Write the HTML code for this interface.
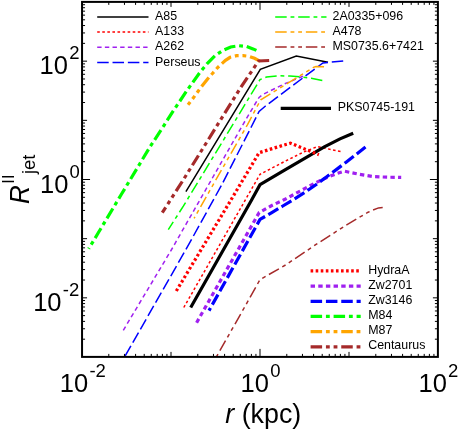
<!DOCTYPE html>
<html><head><meta charset="utf-8"><title>plot</title>
<style>
html,body{margin:0;padding:0;background:#fff;}
svg{display:block;will-change:transform}
text{font-family:"Liberation Sans",sans-serif;fill:#000}
</style></head><body>
<svg width="458" height="430" viewBox="0 0 458 430">
<rect x="0" y="0" width="458" height="430" fill="#fff"/>
<defs><clipPath id="cp"><rect x="82.05" y="1.9" width="355.84999999999997" height="355.0"/></clipPath></defs>

<g clip-path="url(#cp)" fill="none" stroke-linejoin="miter" stroke-linecap="butt">
<path d="M185.9,191.7 L260.3,69.4 L296.3,56.0 L328.0,62.2" stroke="#000000" stroke-width="1.5"/>
<path d="M183.8,307.5 L260.0,174.3 L285.0,161.3 L304.7,151.6 L317.4,146.6 L341.0,151.6" stroke="#ff0000" stroke-width="1.5" stroke-dasharray="2.6,2.47"/>
<path d="M123.3,330.3 L171.3,250.0 L208.7,184.5 L242.2,125.9 L250.3,112.0 L259.1,97.4 L262.6,94.6 L270.1,90.9 L277.1,87.4 L284.7,83.8 L298.6,78.0 L303.0,76.2" stroke="#a020f0" stroke-width="1.5" stroke-dasharray="4.4,3.26"/>
<path d="M124.0,358.0 L187.5,246.7 L221.7,184.9 L251.5,126.5 L259.1,111.4 L264.9,106.5 L322.9,62.9 L343.2,61.0" stroke="#0000ff" stroke-width="1.5" stroke-dasharray="11.5,3.83" stroke-dashoffset="-2.4"/>
<path d="M168.3,229.7 L183.5,205.9 L241.6,110.1 L260.0,79.6 L266.6,77.0 L278.3,75.8 L289.9,76.1 L301.5,77.0 L311.2,78.3 L323.4,80.7" stroke="#00ff00" stroke-width="1.5" stroke-dasharray="11.5,3.83,3.83,3.83" stroke-dashoffset="2.3"/>
<path d="M194.1,218.3 L214.4,182.4 L247.4,124.8 L257.9,105.0 L260.8,99.8 L289.9,81.8 L313.4,67.4 L316.0,66.6 L324.8,66.8" stroke="#ffa500" stroke-width="1.5" stroke-dasharray="11.5,3.83,3.83,3.83,3.83,3.83" stroke-dashoffset="17.5"/>
<path d="M215.4,358.6 L244.1,308.0 L260.0,279.6 L285.6,265.0 L316.1,244.4 L346.7,224.8 L368.1,212.2 L373.0,210.1 L378.5,207.9 L382.7,207.5" stroke="#a52a2a" stroke-width="1.5" stroke-dasharray="11.5,3.83,3.83,3.83,3.83,3.83" stroke-dashoffset="21.6"/>
<path d="M190.7,307.5 L251.6,200.0 L260.0,184.7 L285.0,169.8 L304.7,158.3 L324.3,146.8 L340.0,138.9 L353.2,133.2" stroke="#000000" stroke-width="3.2"/>
<path d="M176.3,291.0 L227.7,205.4 L259.1,152.7 L285.0,144.7 L290.5,143.2 L318.9,154.7" stroke="#ff0000" stroke-width="3.2" stroke-dasharray="2.6,2.47"/>
<path d="M196.6,322.7 L259.1,212.6 L271.8,205.5 L285.0,199.3 L304.6,188.6 L315.5,182.8 L326.4,177.7 L337.3,173.4 L344.5,171.2 L359.3,174.3 L373.1,176.6 L388.0,177.2 L401.2,177.4" stroke="#a020f0" stroke-width="3.2" stroke-dasharray="4.4,3.26"/>
<path d="M209.0,310.6 L260.0,219.4 L271.8,212.6 L282.8,206.0 L293.7,199.4 L304.6,192.5 L315.5,185.0 L326.4,177.0 L337.3,168.9 L346.1,162.2 L365.5,147.1" stroke="#0000ff" stroke-width="3.2" stroke-dasharray="11.5,3.83" stroke-dashoffset="8.5"/>
<path d="M88.7,248.8 L98.3,232.8 L121.7,193.8 L150.0,146.9 L163.9,125.6 L173.1,111.2 L186.2,91.6 L199.3,73.2 L207.2,63.5 L215.0,55.7 L222.9,50.4 L230.7,47.0 L238.6,45.7 L246.5,46.5 L253.0,48.9 L256.4,50.4" stroke="#00ff00" stroke-width="3.2" stroke-dasharray="11.5,3.83,3.83,3.83" stroke-dashoffset="10.5"/>
<path d="M188.0,104.8 L193.4,97.8 L198.3,91.0 L202.0,86.0 L209.0,77.3 L212.7,73.2 L217.6,67.6 L221.2,64.3 L225.5,60.3 L230.1,57.3 L236.6,55.7 L243.1,55.6 L248.8,56.3 L254.5,58.3 L259.8,61.2" stroke="#ffa500" stroke-width="3.2" stroke-dasharray="11.5,3.83,3.83,3.83,3.83,3.83" stroke-dashoffset="7.9"/>
<path d="M162.3,212.6 L182.7,180.8 L241.5,86.3 L258.6,61.0 L271.0,60.4" stroke="#a52a2a" stroke-width="3.2" stroke-dasharray="11.5,3.83,3.83,3.83,3.83,3.83" stroke-dashoffset="5.2"/>
</g>
<path d="M108.79,356.9v-3.0M108.79,1.9v3.0M124.46,356.9v-3.0M124.46,1.9v3.0M135.58,356.9v-3.0M135.58,1.9v3.0M144.21,356.9v-3.0M144.21,1.9v3.0M151.26,356.9v-3.0M151.26,1.9v3.0M157.21,356.9v-3.0M157.21,1.9v3.0M162.38,356.9v-3.0M162.38,1.9v3.0M166.93,356.9v-3.0M166.93,1.9v3.0M171.00,356.9v-5.0M171.00,1.9v5.0M197.79,356.9v-3.0M197.79,1.9v3.0M213.46,356.9v-3.0M213.46,1.9v3.0M224.58,356.9v-3.0M224.58,1.9v3.0M233.21,356.9v-3.0M233.21,1.9v3.0M240.26,356.9v-3.0M240.26,1.9v3.0M246.21,356.9v-3.0M246.21,1.9v3.0M251.38,356.9v-3.0M251.38,1.9v3.0M255.93,356.9v-3.0M255.93,1.9v3.0M260.00,356.9v-8.0M260.00,1.9v8.0M286.79,356.9v-3.0M286.79,1.9v3.0M302.46,356.9v-3.0M302.46,1.9v3.0M313.58,356.9v-3.0M313.58,1.9v3.0M322.21,356.9v-3.0M322.21,1.9v3.0M329.26,356.9v-3.0M329.26,1.9v3.0M335.21,356.9v-3.0M335.21,1.9v3.0M340.38,356.9v-3.0M340.38,1.9v3.0M344.93,356.9v-3.0M344.93,1.9v3.0M349.00,356.9v-5.0M349.00,1.9v5.0M375.79,356.9v-3.0M375.79,1.9v3.0M391.46,356.9v-3.0M391.46,1.9v3.0M402.58,356.9v-3.0M402.58,1.9v3.0M411.21,356.9v-3.0M411.21,1.9v3.0M418.26,356.9v-3.0M418.26,1.9v3.0M424.21,356.9v-3.0M424.21,1.9v3.0M429.38,356.9v-3.0M429.38,1.9v3.0M433.93,356.9v-3.0M433.93,1.9v3.0M82.05,339.19h3.0M437.9,339.19h-3.0M82.05,328.77h3.0M437.9,328.77h-3.0M82.05,321.38h3.0M437.9,321.38h-3.0M82.05,315.64h3.0M437.9,315.64h-3.0M82.05,310.96h3.0M437.9,310.96h-3.0M82.05,307.00h3.0M437.9,307.00h-3.0M82.05,303.57h3.0M437.9,303.57h-3.0M82.05,300.54h3.0M437.9,300.54h-3.0M82.05,297.83h5.0M437.9,297.83h-5.0M82.05,280.02h3.0M437.9,280.02h-3.0M82.05,269.60h3.0M437.9,269.60h-3.0M82.05,262.21h3.0M437.9,262.21h-3.0M82.05,256.48h3.0M437.9,256.48h-3.0M82.05,251.79h3.0M437.9,251.79h-3.0M82.05,247.83h3.0M437.9,247.83h-3.0M82.05,244.40h3.0M437.9,244.40h-3.0M82.05,241.37h3.0M437.9,241.37h-3.0M82.05,238.67h5.0M437.9,238.67h-5.0M82.05,220.86h3.0M437.9,220.86h-3.0M82.05,210.44h3.0M437.9,210.44h-3.0M82.05,203.04h3.0M437.9,203.04h-3.0M82.05,197.31h3.0M437.9,197.31h-3.0M82.05,192.63h3.0M437.9,192.63h-3.0M82.05,188.67h3.0M437.9,188.67h-3.0M82.05,185.23h3.0M437.9,185.23h-3.0M82.05,182.21h3.0M437.9,182.21h-3.0M82.05,179.50h8.0M437.9,179.50h-8.0M82.05,161.69h3.0M437.9,161.69h-3.0M82.05,151.27h3.0M437.9,151.27h-3.0M82.05,143.88h3.0M437.9,143.88h-3.0M82.05,138.14h3.0M437.9,138.14h-3.0M82.05,133.46h3.0M437.9,133.46h-3.0M82.05,129.50h3.0M437.9,129.50h-3.0M82.05,126.07h3.0M437.9,126.07h-3.0M82.05,123.04h3.0M437.9,123.04h-3.0M82.05,120.33h5.0M437.9,120.33h-5.0M82.05,102.52h3.0M437.9,102.52h-3.0M82.05,92.10h3.0M437.9,92.10h-3.0M82.05,84.71h3.0M437.9,84.71h-3.0M82.05,78.98h3.0M437.9,78.98h-3.0M82.05,74.29h3.0M437.9,74.29h-3.0M82.05,70.33h3.0M437.9,70.33h-3.0M82.05,66.90h3.0M437.9,66.90h-3.0M82.05,63.87h3.0M437.9,63.87h-3.0M82.05,61.17h5.0M437.9,61.17h-5.0M82.05,43.36h3.0M437.9,43.36h-3.0M82.05,32.94h3.0M437.9,32.94h-3.0M82.05,25.54h3.0M437.9,25.54h-3.0M82.05,19.81h3.0M437.9,19.81h-3.0M82.05,15.13h3.0M437.9,15.13h-3.0M82.05,11.17h3.0M437.9,11.17h-3.0M82.05,7.73h3.0M437.9,7.73h-3.0M82.05,4.71h3.0M437.9,4.71h-3.0" stroke="#000" stroke-width="1" fill="none"/>
<rect x="82.05" y="1.9" width="355.84999999999997" height="355.0" fill="none" stroke="#000" stroke-width="2"/>
<path d="M97.2,17.0H148.5" stroke="#000000" stroke-width="1.5" fill="none"/>
<text x="155.1" y="20.0" font-size="12.4" text-anchor="start" >A85</text>
<path d="M97.2,32.0H148.5" stroke="#ff0000" stroke-width="1.5" fill="none" stroke-dasharray="2.6,2.47"/>
<text x="155.1" y="35.0" font-size="12.4" text-anchor="start" >A133</text>
<path d="M97.2,47.3H148.5" stroke="#a020f0" stroke-width="1.5" fill="none" stroke-dasharray="4.4,3.26"/>
<text x="155.1" y="50.3" font-size="12.4" text-anchor="start" >A262</text>
<path d="M97.2,62.6H148.5" stroke="#0000ff" stroke-width="1.5" fill="none" stroke-dasharray="11.5,3.83"/>
<text x="155.1" y="65.6" font-size="12.4" text-anchor="start" >Perseus</text>
<path d="M275.2,17.0H326.5" stroke="#00ff00" stroke-width="1.5" fill="none" stroke-dasharray="11.5,3.83,3.83,3.83"/>
<text x="332.5" y="20.0" font-size="12.4" text-anchor="start" >2A0335+096</text>
<path d="M275.2,32.0H326.5" stroke="#ffa500" stroke-width="1.5" fill="none" stroke-dasharray="11.5,3.83,3.83,3.83,3.83,3.83"/>
<text x="332.5" y="35.0" font-size="12.4" text-anchor="start" >A478</text>
<path d="M275.2,47.1H326.5" stroke="#a52a2a" stroke-width="1.5" fill="none" stroke-dasharray="11.5,3.83,3.83,3.83,3.83,3.83"/>
<text x="332.5" y="50.1" font-size="12.4" text-anchor="start" >MS0735.6+7421</text>
<path d="M280.7,108.3H331" stroke="#000000" stroke-width="3.2" fill="none"/>
<text x="337.8" y="111.3" font-size="12.4" text-anchor="start" >PKS0745-191</text>
<path d="M310.6,270.9H360.7" stroke="#ff0000" stroke-width="3.2" fill="none" stroke-dasharray="2.6,2.47"/>
<text x="368.2" y="273.7" font-size="12.4" text-anchor="start" >HydraA</text>
<path d="M310.6,286.2H360.7" stroke="#a020f0" stroke-width="3.2" fill="none" stroke-dasharray="4.4,3.26"/>
<text x="368.2" y="288.83" font-size="12.4" text-anchor="start" >Zw2701</text>
<path d="M310.6,301.3H360.7" stroke="#0000ff" stroke-width="3.2" fill="none" stroke-dasharray="11.5,3.83"/>
<text x="368.2" y="303.96" font-size="12.4" text-anchor="start" >Zw3146</text>
<path d="M310.6,316.3H360.7" stroke="#00ff00" stroke-width="3.2" fill="none" stroke-dasharray="11.5,3.83,3.83,3.83"/>
<text x="368.2" y="319.09" font-size="12.4" text-anchor="start" >M84</text>
<path d="M310.6,331.7H360.7" stroke="#ffa500" stroke-width="3.2" fill="none" stroke-dasharray="11.5,3.83,3.83,3.83,3.83,3.83"/>
<text x="368.2" y="334.22" font-size="12.4" text-anchor="start" >M87</text>
<path d="M310.6,346.9H360.7" stroke="#a52a2a" stroke-width="3.2" fill="none" stroke-dasharray="11.5,3.83,3.83,3.83,3.83,3.83"/>
<text x="368.2" y="349.35" font-size="12.4" text-anchor="start" >Centaurus</text>
<text x="59.8" y="391.8" font-size="25.5">10<tspan font-size="18.5" dy="-14.7" dx="1.2">-2</tspan></text>
<text x="240.6" y="391.8" font-size="25.5">10<tspan font-size="18.5" dy="-14.7" dx="1.2">0</tspan></text>
<text x="418.5" y="391.8" font-size="25.5">10<tspan font-size="18.5" dy="-14.7" dx="1.2">2</tspan></text>
<text x="39.6" y="73.8" font-size="25.5">10<tspan font-size="18.5" dy="-14.7" dx="1.2">2</tspan></text>
<text x="40.0" y="192.6" font-size="25.5">10<tspan font-size="18.5" dy="-14.7" dx="1.2">0</tspan></text>
<text x="33.2" y="310.9" font-size="25.5">10<tspan font-size="18.5" dy="-14.7" dx="1.2">-2</tspan></text>
<text x="225.3" y="423.0" font-size="26.8"><tspan font-style="italic">r</tspan> (kpc)</text>
<g transform="translate(28.8,204.1) rotate(-90)"><text x="0" y="0" font-size="26.8" font-style="italic" textLength="18.8" lengthAdjust="spacingAndGlyphs">R</text><text x="20.3" y="-15.3" font-size="16.3" letter-spacing="0.35">II</text><text x="30" y="6.4" font-size="18.4">jet</text></g>
</svg></body></html>
